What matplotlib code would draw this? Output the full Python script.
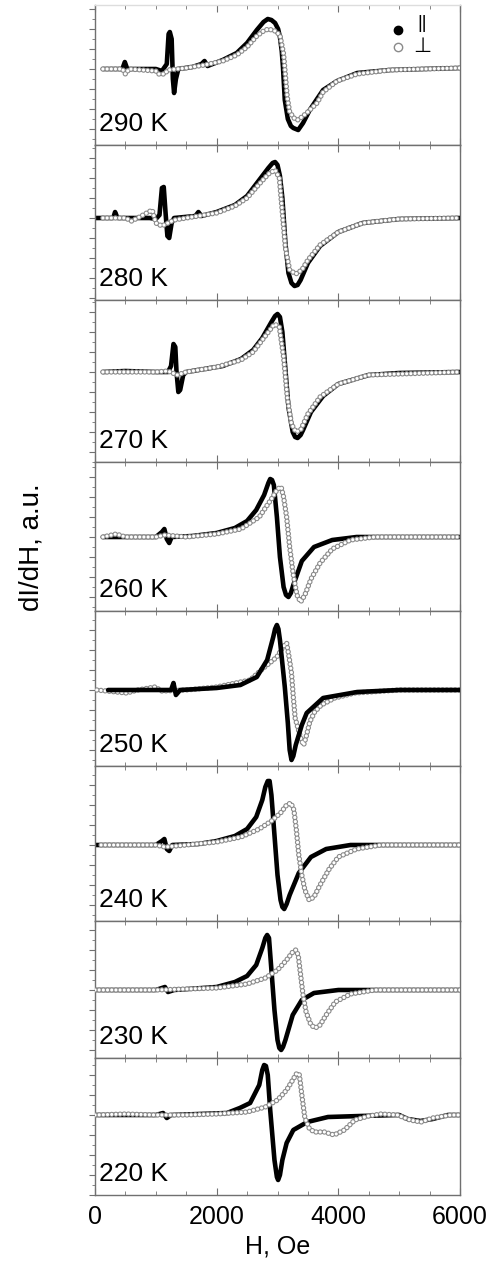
import matplotlib
matplotlib.use('Agg')
import matplotlib.pyplot as plt
from matplotlib.ticker import MultipleLocator, NullFormatter

plt.rcParams['font.family'] = ['Liberation Sans', 'DejaVu Sans']
plt.rcParams['lines.scale_dashes'] = False

temps = ['290 K', '280 K', '270 K', '260 K', '250 K', '240 K', '230 K', '220 K']

# field (Oe) / signal (a.u.), parallel (filled) and perpendicular (open)
h_290_par = [130, 450, 490, 530, 1000, 1100, 1180, 1210, 1230, 1260, 1280, 1300, 1330, 1370, 1600, 1750, 1800, 1850, 2100, 2330, 2500, 2660, 2770, 2840, 2900, 2960, 3010, 3040, 3070, 3090, 3120, 3170, 3220, 3260, 3340, 3420, 3530, 3650, 3750, 3980, 4310, 4850, 5400, 6000]
y_290_par = [0, 0, 7, 0, 0, -2, 5, 35, 37, 30, -10, -24, -10, 0, 2, 5, 8, 3, 9, 16, 26, 39, 47, 50, 49, 46, 40, 32, 18, 2, -31, -50, -57, -59, -61, -54, -41, -30, -21, -12, -4, -1, 0, 1]
h_290_perp = [130, 450, 500, 560, 1000, 1050, 1140, 1200, 1500, 1800, 2100, 2330, 2500, 2660, 2770, 2850, 2960, 3040, 3100, 3160, 3200, 3270, 3330, 3400, 3480, 3650, 3750, 3980, 4310, 4850, 5400, 6000]
y_290_perp = [0, 0, -5, 0, -2, -5, -5, -1, 1, 4, 8, 14, 22, 33, 38, 40, 38, 34, 15, -28, -43, -49, -51, -48, -44, -34, -23, -12, -5, -1, 0, 1]

h_280_par = [0, 300, 330, 370, 900, 1000, 1060, 1100, 1130, 1160, 1190, 1220, 1260, 1300, 1650, 1700, 1750, 2000, 2300, 2500, 2700, 2850, 2920, 2960, 3000, 3040, 3080, 3130, 3180, 3230, 3280, 3330, 3380, 3500, 3700, 4000, 4400, 5000, 6000]
y_280_par = [0, 0, 6, 0, 0, -1, 3, 30, 31, 5, -18, -20, -5, 0, 2, 6, 2, 6, 13, 22, 38, 50, 55, 56, 53, 42, 20, -25, -55, -65, -68, -67, -62, -45, -28, -14, -5, -1, 0]
h_280_perp = [130, 500, 600, 700, 940, 1000, 1100, 1200, 1300, 1500, 1800, 2000, 2300, 2500, 2700, 2850, 2960, 3030, 3080, 3130, 3200, 3300, 3400, 3500, 3700, 4000, 4400, 5000, 6000]
y_280_perp = [0, 0, -3, 0, 8, -5, -8, -5, -2, 0, 3, 5, 12, 20, 34, 44, 48, 40, 5, -30, -52, -56, -52, -42, -27, -14, -5, -1, 0]

h_270_par = [130, 500, 1000, 1200, 1250, 1290, 1320, 1340, 1370, 1400, 1450, 1500, 1800, 2100, 2400, 2600, 2750, 2900, 2960, 3000, 3040, 3080, 3120, 3180, 3250, 3290, 3330, 3380, 3420, 3550, 3750, 4000, 4500, 5000, 6000]
y_270_par = [0, 1, 0, 0, 6, 28, 25, 0, -20, -18, -3, 0, 3, 6, 13, 22, 34, 50, 56, 58, 55, 40, 10, -35, -60, -65, -66, -63, -58, -40, -24, -12, -3, -1, 0]
h_270_perp = [130, 1000, 1200, 1350, 1500, 2000, 2400, 2600, 2800, 2950, 3030, 3100, 3160, 3230, 3300, 3380, 3500, 3700, 4000, 4500, 6000]
y_270_perp = [0, 0, 1, -3, 0, 5, 12, 20, 36, 48, 45, 15, -25, -52, -60, -58, -42, -25, -12, -3, 0]

h_260_par = [130, 1000, 1100, 1140, 1180, 1220, 1260, 1600, 2000, 2300, 2500, 2650, 2780, 2850, 2880, 2910, 2940, 2990, 3040, 3100, 3140, 3180, 3220, 3260, 3400, 3600, 3900, 4300, 6000]
y_260_par = [0, 0, 5, 8, -2, -6, 0, 1, 4, 9, 16, 27, 42, 54, 58, 57, 52, 20, -20, -50, -58, -60, -56, -48, -24, -10, -3, 0, 0]
h_260_perp = [130, 350, 500, 1000, 1150, 1500, 2000, 2400, 2700, 2900, 3000, 3060, 3100, 3150, 3200, 3260, 3320, 3380, 3450, 3550, 3700, 3900, 4200, 4600, 6000]
y_260_perp = [0, 3, 0, 0, 2, 0, 3, 8, 20, 38, 48, 50, 40, 20, -10, -38, -58, -65, -58, -42, -26, -12, -3, 0, 0]

h_250_par = [215, 1000, 1250, 1290, 1330, 1400, 2000, 2390, 2660, 2830, 2930, 2960, 2990, 3015, 3040, 3120, 3170, 3200, 3230, 3260, 3300, 3400, 3480, 3750, 4310, 5000, 6000]
y_250_par = [0, 0, 0, 7, -5, 0, 2, 5, 13, 30, 53, 61, 65, 61, 50, 3, -33, -60, -70, -66, -55, -35, -23, -8, -2, 0, 0]
h_250_perp = [30, 520, 700, 985, 1100, 1500, 2000, 2550, 2770, 2990, 3090, 3150, 3190, 3230, 3260, 3290, 3390, 3430, 3470, 3530, 3610, 3720, 3940, 4270, 5000, 6000]
y_250_perp = [0, -3, 0, 3, -1, 0, 3, 10, 22, 33, 43, 47, 33, 17, -7, -28, -50, -55, -47, -32, -22, -15, -8, -3, 0, 0]

h_240_par = [0, 400, 1000, 1100, 1140, 1180, 1220, 1270, 1700, 2000, 2300, 2500, 2650, 2750, 2800, 2840, 2870, 2900, 2950, 3000, 3050, 3080, 3110, 3150, 3200, 3350, 3550, 3800, 4200, 6000]
y_240_par = [0, 0, 0, 4, 6, -4, -6, 0, 1, 4, 9, 16, 28, 45, 58, 64, 64, 50, 10, -30, -55, -62, -64, -59, -50, -28, -12, -4, 0, 0]
h_240_perp = [100, 1000, 1150, 1500, 2000, 2400, 2700, 2900, 3050, 3150, 3220, 3270, 3310, 3350, 3400, 3450, 3520, 3600, 3700, 3850, 4000, 4300, 4700, 6000]
y_240_perp = [0, 0, -2, 0, 3, 8, 16, 24, 32, 40, 42, 35, 15, -10, -30, -45, -55, -52, -40, -24, -12, -4, 0, 0]

h_230_par = [0, 1000, 1150, 1200, 1300, 2000, 2300, 2500, 2650, 2750, 2800, 2830, 2860, 2900, 2950, 3000, 3030, 3060, 3090, 3130, 3250, 3400, 3600, 4000, 6000]
y_230_par = [0, 0, 3, -2, 0, 3, 8, 14, 25, 42, 52, 55, 52, 20, -20, -50, -58, -60, -57, -50, -25, -10, -3, 0, 0]
h_230_perp = [0, 1000, 2000, 2500, 2800, 3000, 3150, 3250, 3300, 3340, 3380, 3420, 3470, 3550, 3620, 3700, 3800, 3950, 4200, 4600, 6000]
y_230_perp = [0, 0, 2, 6, 12, 20, 30, 38, 40, 35, 15, -5, -22, -35, -38, -35, -25, -12, -4, 0, 0]

h_220_par = [0, 1000, 1120, 1180, 1250, 2170, 2380, 2550, 2700, 2750, 2780, 2810, 2840, 2880, 2950, 2990, 3010, 3040, 3080, 3150, 3260, 3490, 3830, 4360, 5000, 5140, 5350, 5550, 5800, 6000]
y_220_par = [0, 0, 2, -3, 0, 2, 7, 12, 30, 45, 50, 49, 40, 5, -45, -62, -65, -60, -45, -28, -15, -7, -2, -1, 0, -4, -6, -4, 0, 0]
h_220_perp = [0, 500, 1000, 1500, 2000, 2500, 2800, 3000, 3150, 3250, 3320, 3360, 3400, 3450, 3520, 3600, 3770, 3930, 4100, 4270, 4500, 4700, 4970, 5180, 5360, 5550, 5850, 6000]
y_220_perp = [0, 1, 0, 0, 1, 3, 8, 15, 25, 35, 42, 40, 20, -3, -13, -17, -17, -20, -15, -5, -1, 1, 0, -5, -7, -3, 0, 0]

par_h = [h_290_par, h_280_par, h_270_par, h_260_par, h_250_par, h_240_par, h_230_par, h_220_par]
par_y = [y_290_par, y_280_par, y_270_par, y_260_par, y_250_par, y_240_par, y_230_par, y_220_par]
perp_h = [h_290_perp, h_280_perp, h_270_perp, h_260_perp, h_250_perp, h_240_perp, h_230_perp, h_220_perp]
perp_y = [y_290_perp, y_280_perp, y_270_perp, y_260_perp, y_250_perp, y_240_perp, y_230_perp, y_220_perp]

# panel layout in pixels: top, bottom, baseline
W, H = 496, 1267
panels = [(5, 145, 69), (145, 300, 218), (300, 462, 372), (462, 611, 537),
          (611, 766, 690), (766, 921, 845), (921, 1058, 990), (1058, 1195, 1115)]
black_on_top = [False, False, False, False, True, False, False, False]

fig = plt.figure(figsize=(W / 100, H / 100), dpi=100)
axl, axr = 95, 460
spine_c = '#707070'

for i, (top, bot, base) in enumerate(panels):
    ax = fig.add_axes([axl / W, 1 - bot / H, (axr - axl) / W, (bot - top) / H])
    ax.set_xlim(0, 6000)
    ax.set_ylim(base - bot, base - top)

    zb = 4 if black_on_top[i] else 2
    ax.plot(par_h[i], par_y[i], color='black', lw=3.3, solid_joinstyle='round',
            solid_capstyle='round', zorder=zb)
    # open circles: grey ring = grey dots with white dots on top
    ax.plot(perp_h[i], perp_y[i], color='#8a8a8a', lw=3.9, ls=(0, (0.01, 3.0)),
            dash_capstyle='round', zorder=3)
    ax.plot(perp_h[i], perp_y[i], color='white', lw=2.3, ls=(0, (0.01, 3.0)),
            dash_capstyle='round', zorder=3.1)

    ax.text(0.01, 9 / (bot - top), temps[i], transform=ax.transAxes, fontsize=19,
            ha='left', va='bottom', zorder=5)

    ax.xaxis.set_major_locator(MultipleLocator(2000))
    ax.xaxis.set_minor_locator(MultipleLocator(500))
    ax.yaxis.set_major_locator(MultipleLocator(20))
    ax.yaxis.set_minor_locator(MultipleLocator(10))
    ax.tick_params(axis='x', which='both', direction='in', top=True, bottom=True,
                   color=spine_c)
    ax.tick_params(axis='x', which='major', length=5, labelsize=18, pad=7)
    ax.tick_params(axis='x', which='minor', length=3)
    ax.tick_params(axis='y', which='both', direction='out', left=True, right=False,
                   labelleft=False, color=spine_c)
    ax.tick_params(axis='y', which='major', length=4)
    ax.tick_params(axis='y', which='minor', length=2)
    for s in ax.spines.values():
        s.set_color(spine_c)
        s.set_linewidth(1.0)
    if i == 0:
        ax.spines['top'].set_color('#dddddd')
        ax.plot([4980], [39], 'o', color='black', ms=6)
        ax.plot([4980], [22], 'o', mfc='white', mec='#8a8a8a', ms=6)
        ax.text(5380, 45, '||', fontsize=13, ha='center', va='center')
        ax.text(5380, 22, '\u22a5', fontsize=15, ha='center', va='center')
    if i < len(panels) - 1:
        ax.xaxis.set_major_formatter(NullFormatter())
    else:
        ax.set_xlabel('H, Oe', fontsize=18, labelpad=4)

fig.text(31 / W, 1 - 547 / H, 'dI/dH, a.u.', rotation=90, fontsize=20,
         ha='center', va='center')

fig.savefig('out.png', dpi=100)
